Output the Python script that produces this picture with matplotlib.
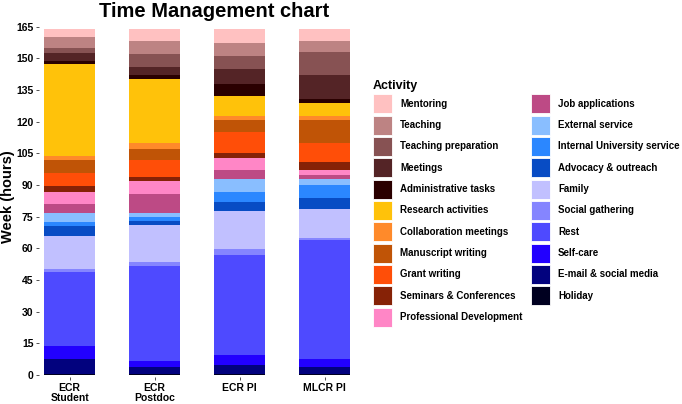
import numpy as np
import matplotlib.pyplot as plt
from matplotlib.patches import Patch

plt.rcParams['font.family'] = ['Liberation Sans', 'DejaVu Sans']

groups = ['ECR\nStudent', 'ECR\nPostdoc', 'ECR PI', 'MLCR PI']

# activities from top of stack to bottom (legend order)
activities = ['Mentoring', 'Teaching', 'Teaching preparation', 'Meetings',
              'Administrative tasks', 'Research activities', 'Collaboration meetings',
              'Manuscript writing', 'Grant writing', 'Seminars & Conferences',
              'Professional Development', 'Job applications', 'External service',
              'Internal University service', 'Advocacy & outreach', 'Family',
              'Social gathering', 'Rest', 'Self-care', 'E-mail & social media', 'Holiday']

colors = ['#FFC1C1', '#BD8383', '#875253', '#542426', '#2A0000', '#FFC20A',
          '#FF8A2A', '#C05406', '#FF4E08', '#862206', '#FF86C6', '#BD4A85',
          '#89BEFF', '#2B87FF', '#084CC4', '#C1C0FF', '#8585FF', '#4E4AFF',
          '#2200FF', '#02027E', '#000020']

# hours per week, same order as activities
student = [3.8, 5.2, 2.5, 3.5, 1.7, 43.4, 1.8, 6.3, 6.0, 2.9, 5.9, 4.2,
           4.1, 1.9, 4.7, 15.9, 1.2, 35.2, 6.1, 7.1, 0.5]
postdoc = [5.7, 6.0, 6.2, 4.0, 1.9, 30.2, 3.0, 4.9, 8.2, 1.9, 6.0, 9.2,
           1.9, 1.9, 2.0, 17.2, 2.1, 44.9, 3.0, 3.2, 0.5]
ecr_pi = [6.8, 6.0, 6.0, 7.3, 5.8, 9.2, 1.9, 6.0, 9.9, 2.1, 5.9, 4.2,
          6.0, 4.9, 4.1, 18.1, 2.9, 47.2, 4.9, 4.2, 0.5]
mlcr_pi = [5.7, 5.2, 11.0, 11.1, 1.9, 6.2, 1.9, 11.0, 9.0, 3.9, 2.1, 2.1,
           2.9, 6.1, 5.0, 14.0, 0.8, 56.4, 4.0, 3.1, 0.5]

data = np.array([student, postdoc, ecr_pi, mlcr_pi])

fig = plt.figure(figsize=(6.82, 4.04), dpi=100)
ax = fig.add_axes([0.0572, 0.0666, 0.4635, 0.8725])

x = np.arange(len(groups))
bottom = np.zeros(len(groups))
for i in range(len(activities) - 1, -1, -1):
    ax.bar(x, data[:, i], bottom=bottom, width=0.6, color=colors[i], linewidth=0)
    bottom += data[:, i]

ax.set_xlim(-0.36, 3.36)
ax.set_ylim(-1, 166)
ax.set_yticks(np.arange(0, 166, 15))
ax.set_xticks(x)
ax.set_xticklabels(groups, fontweight='bold', fontsize=7.5, linespacing=1.1)
for lab in ax.get_yticklabels():
    lab.set_fontweight('bold')
    lab.set_fontsize(7.5)
ax.tick_params(axis='both', length=2.5, width=0.6, color='#333333', pad=1.5)
for s in ax.spines.values():
    s.set_visible(False)

fig.text(0.314, 0.972, 'Time Management chart', fontsize=14.5, fontweight='bold',
         ha='center', va='center')
fig.text(0.0115, 0.514, 'Week (hours)', fontsize=10.5, fontweight='bold',
         rotation=90, ha='center', va='center')

handles = [Patch(facecolor=c, edgecolor='white', linewidth=0.6) for c in colors]
leg = fig.legend(handles, activities, loc='upper left', bbox_to_anchor=(0.547, 0.802),
                 ncol=2, frameon=False, title='Activity', fontsize=7,
                 handlelength=1.95, handleheight=2.63, labelspacing=0.24,
                 handletextpad=0.85, columnspacing=0.85, borderpad=0,
                 borderaxespad=0, alignment='left')
leg.get_title().set_fontweight('bold')
leg.get_title().set_fontsize(9)
for t in leg.get_texts():
    t.set_fontweight('bold')

fig.savefig('out.png', dpi=100)
